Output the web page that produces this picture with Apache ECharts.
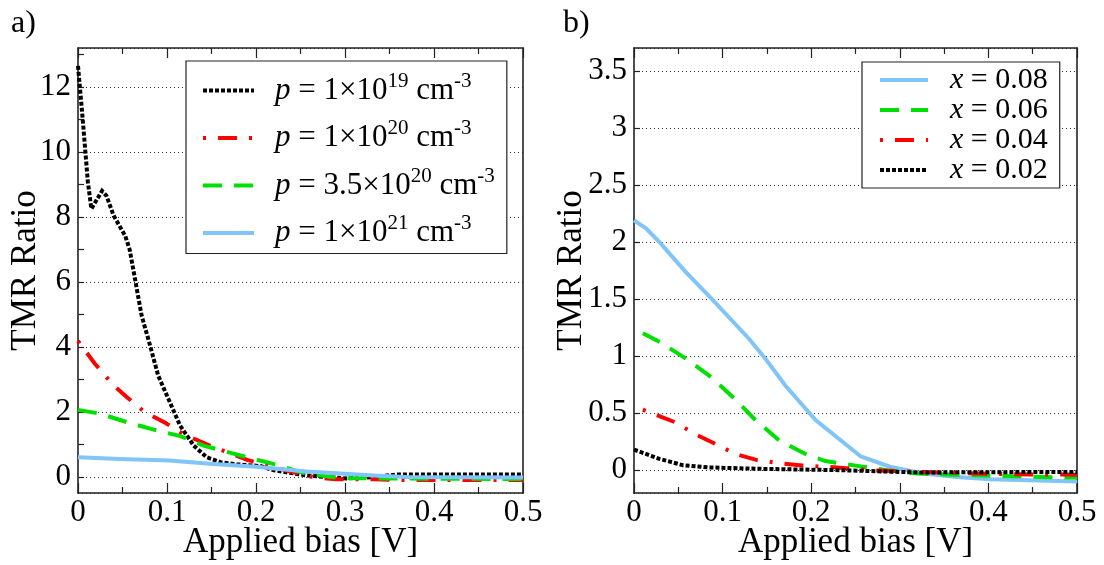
<!DOCTYPE html>
<html><head><meta charset="utf-8">
<script src="https://cdn.jsdelivr.net/npm/echarts@6/dist/echarts.min.js"></script>
<style>html,body{margin:0;padding:0;background:#fff}#c{width:1104px;height:565px}</style>
</head><body><div id="c"></div><script>
const FONT = 'Liberation Serif';
// ---------- Panel a data ----------
const aBlackX = [0, 0.005, 0.008, 0.011, 0.015, 0.027, 0.032, 0.04, 0.053, 0.058, 0.062, 0.0715, 0.081, 0.09, 0.1015, 0.1146, 0.13, 0.1446, 0.16, 0.18, 0.205, 0.22, 0.257, 0.28, 0.302, 0.332, 0.358, 0.4, 0.45, 0.5];
const aBlackY = [12.65, 11.1, 10.1, 9.1, 8.25, 8.8, 8.65, 8.04, 7.42, 7.0, 6.4, 4.96, 4.04, 3.12, 2.4, 1.58, 0.96, 0.6, 0.45, 0.38, 0.33, 0.2, 0.04, -0.01, -0.05, -0.01, 0.07, 0.07, 0.07, 0.07];
const aRedX = [0, 0.019, 0.04, 0.055, 0.075, 0.098, 0.118, 0.148, 0.19, 0.242, 0.264, 0.29, 0.332, 0.369, 0.42, 0.5];
const aRedY = [4.18, 3.48, 2.81, 2.45, 1.99, 1.66, 1.32, 0.96, 0.52, 0.14, -0.01, -0.08, -0.08, -0.1, -0.1, -0.1];
const aGreenX = [0, 0.025, 0.055, 0.085, 0.115, 0.141, 0.19, 0.216, 0.257, 0.294, 0.332, 0.388, 0.5];
const aGreenY = [2.06, 1.94, 1.68, 1.45, 1.25, 0.96, 0.6, 0.42, 0.09, -0.04, -0.05, -0.06, -0.07];
const aBlueX = [0, 0.047, 0.103, 0.148, 0.2, 0.257, 0.332, 0.369, 0.5];
const aBlueY = [0.6, 0.55, 0.5, 0.4, 0.31, 0.16, 0.04, -0.01, -0.02];
const aNames = ['p1e19', 'p1e20', 'p35e20', 'p1e21'];
const aLabels = {
  p1e19: '{i|p}{t| = 1×10}{s|19}{t| cm}{s|-3}',
  p1e20: '{i|p}{t| = 1×10}{s|20}{t| cm}{s|-3}',
  p35e20: '{i|p}{t| = 3.5×10}{s|20}{t| cm}{s|-3}',
  p1e21: '{i|p}{t| = 1×10}{s|21}{t| cm}{s|-3}'
};
const aYTicks = [0,1,2,3,4,5,6,7,8,9,10,11,12,13];
// ---------- Panel b data ----------
const bBlueX = [0, 0.0135, 0.0285, 0.058, 0.088, 0.13, 0.149, 0.171, 0.205, 0.256, 0.289, 0.327, 0.364, 0.402, 0.5];
const bBlueY = [2.19, 2.12, 2.0, 1.74, 1.5, 1.15, 0.97, 0.74, 0.44, 0.12, 0.03, -0.03, -0.06, -0.08, -0.1];
const bGreenX = [0.01, 0.03, 0.06, 0.088, 0.113, 0.137, 0.164, 0.194, 0.216, 0.25, 0.286, 0.32, 0.383, 0.458, 0.5];
const bGreenY = [1.2, 1.12, 0.97, 0.81, 0.63, 0.44, 0.26, 0.14, 0.08, 0.04, 0.0, -0.03, -0.045, -0.06, -0.065];
const bRedX = [0.01, 0.03, 0.0465, 0.068, 0.092, 0.115, 0.139, 0.167, 0.19, 0.216, 0.25, 0.263, 0.346, 0.421, 0.5];
const bRedY = [0.53, 0.47, 0.42, 0.32, 0.23, 0.14, 0.088, 0.059, 0.041, 0.03, 0.012, 0.0, -0.02, -0.035, -0.04];
const bBlackX = [0, 0.0285, 0.055, 0.085, 0.141, 0.233, 0.32, 0.5];
const bBlackY = [0.18, 0.1, 0.044, 0.024, 0.012, 0.0, -0.02, -0.015];
const bNames = ['x0.08', 'x0.06', 'x0.04', 'x0.02'];
const bLabels = {
  'x0.08': '{i|x}{t| = 0.08}',
  'x0.06': '{i|x}{t| = 0.06}',
  'x0.04': '{i|x}{t| = 0.04}',
  'x0.02': '{i|x}{t| = 0.02}'
};
// ---------- styles ----------
const C_BLACK = '#000000', C_RED = '#ff0000', C_GREEN = '#00e000', C_BLUE = '#80c4f8';
const DASH_BLACK = [4, 2], DASH_RED = [3, 12, 19, 12], DASH_GREEN = [19, 12];
const zip = (xs, ys) => xs.map((x, i) => [x, ys[i]]);
function line(name, xs, ys, color, type, xi, yi) {
  return { type: 'line', name, data: zip(xs, ys), xAxisIndex: xi, yAxisIndex: yi,
    symbol: 'none', showSymbol: false, animation: false, clip: true, z: 3,
    lineStyle: { color, width: 4, type, cap: 'butt', join: 'miter' }, itemStyle: { color } };
}
const frame = { lineStyle: { color: '#222', width: 1.6 } };
function xAx(grid, pos, labels) {
  return { type: 'value', gridIndex: grid, position: pos, min: 0, max: 0.5, interval: 0.1,
    axisLine: { show: true, onZero: false, ...frame },
    axisTick: { show: true, inside: true, length: 10, lineStyle: { color: '#222', width: 1.2 } },
    minorTick: { show: true, splitNumber: 2, length: 6, lineStyle: { color: '#222', width: 1.2 } },
    splitLine: { show: false },
    axisLabel: { show: labels, fontFamily: FONT, fontSize: 31, color: '#000', margin: 4 },
    name: labels ? 'Applied bias [V]' : '', nameLocation: 'middle', nameGap: 32, nameMoveOverlap: false,
    nameTextStyle: { fontFamily: FONT, fontSize: 35, color: '#000' } };
}
const richA = {
  t: { fontFamily: FONT, fontSize: 31, color: '#000', lineHeight: 40, padding: [5, 0, 5, 0] },
  i: { fontFamily: FONT, fontSize: 31, fontStyle: 'italic', color: '#000', lineHeight: 40, padding: [5, 0, 5, 16] },
  s: { fontFamily: FONT, fontSize: 21, color: '#000', lineHeight: 11, verticalAlign: 'top' }
};
const richB = {
  t: { fontFamily: FONT, fontSize: 30, color: '#000', lineHeight: 28 },
  i: { fontFamily: FONT, fontSize: 30, fontStyle: 'italic', color: '#000', lineHeight: 28, padding: [0, 0, 0, 17] }
};
const legendCommon = { orient: 'vertical', itemHeight: 14, borderColor: '#222', borderWidth: 1.2,
  backgroundColor: '#fff', selectedMode: false, itemStyle: { opacity: 0 },
  lineStyle: { width: 4, cap: 'butt' } };
const yName = { fontFamily: FONT, fontSize: 35, color: '#000' };
const option = {
  animation: false,
  backgroundColor: '#fff',
  title: [
    { text: 'a)', left: 6, top: 3, textStyle: { fontFamily: FONT, fontSize: 32, fontWeight: 'normal', color: '#000' } },
    { text: 'b)', left: 558, top: 3, textStyle: { fontFamily: FONT, fontSize: 32, fontWeight: 'normal', color: '#000' } }
  ],
  grid: [
    { left: 78, right: 1104 - 523, top: 48, bottom: 565 - 493, containLabel: false, outerBoundsMode: 'none' },
    { left: 634, right: 1104 - 1077, top: 48, bottom: 565 - 493, containLabel: false, outerBoundsMode: 'none' }
  ],
  xAxis: [xAx(0, 'bottom', true), xAx(0, 'top', false), xAx(1, 'bottom', true), xAx(1, 'top', false)],
  yAxis: [
    { type: 'value', gridIndex: 0, position: 'left', min: -0.5, max: 13.2, splitNumber: 7,
      axisLine: { show: true, onZero: false, ...frame }, axisTick: { show: false },
      splitLine: { show: true, lineStyle: { color: '#333', width: 1, type: [1, 3] } },
      axisLabel: { fontFamily: FONT, fontSize: 31, color: '#000', margin: 7, showMinLabel: false, showMaxLabel: false },
      name: 'TMR Ratio', nameLocation: 'middle', nameGap: 35, nameMoveOverlap: false, nameTextStyle: yName },
    { type: 'value', gridIndex: 0, position: 'right', min: -0.5, max: 13.2,
      axisLine: { show: true, onZero: false, ...frame }, axisTick: { show: false }, axisLabel: { show: false }, splitLine: { show: false } },
    { type: 'value', gridIndex: 0, position: 'left', min: -0.5, max: 13.2,
      axisLine: { show: false }, axisLabel: { show: false }, splitLine: { show: false },
      axisTick: { show: true, inside: true, length: 6, customValues: aYTicks, lineStyle: { color: '#222', width: 1.2 } } },
    { type: 'value', gridIndex: 1, position: 'left', min: -0.2, max: 3.7, splitNumber: 8,
      axisLine: { show: true, onZero: false, ...frame }, axisTick: { show: true, inside: true, length: 6, lineStyle: { color: '#222', width: 1.2 } },
      splitLine: { show: true, lineStyle: { color: '#333', width: 1, type: [1, 3] } },
      axisLabel: { fontFamily: FONT, fontSize: 31, color: '#000', margin: 7, showMinLabel: false, showMaxLabel: false },
      name: 'TMR Ratio', nameLocation: 'middle', nameGap: 45, nameMoveOverlap: false, nameTextStyle: yName },
    { type: 'value', gridIndex: 1, position: 'right', min: -0.2, max: 3.7,
      axisLine: { show: true, onZero: false, ...frame }, axisTick: { show: false }, axisLabel: { show: false }, splitLine: { show: false } }
  ],
  legend: [
    { ...legendCommon, data: aNames, left: 186, top: 61, itemWidth: 51, itemGap: 6.5,
      padding: [9, 12, 0, 15], formatter: n => aLabels[n], textStyle: { rich: richA } },
    { ...legendCommon, data: bNames, left: 862, top: 62, itemWidth: 48, itemGap: 0,
      padding: [3, 12, 3, 16], formatter: n => bLabels[n], textStyle: { rich: richB } }
  ],
  series: [
    line('p1e19', aBlackX, aBlackY, C_BLACK, DASH_BLACK, 0, 0),
    line('p1e20', aRedX, aRedY, C_RED, DASH_RED, 0, 0),
    line('p35e20', aGreenX, aGreenY, C_GREEN, DASH_GREEN, 0, 0),
    line('p1e21', aBlueX, aBlueY, C_BLUE, 'solid', 0, 0),
    line('x0.08', bBlueX, bBlueY, C_BLUE, 'solid', 2, 3),
    line('x0.06', bGreenX, bGreenY, C_GREEN, DASH_GREEN, 2, 3),
    line('x0.04', bRedX, bRedY, C_RED, DASH_RED, 2, 3),
    line('x0.02', bBlackX, bBlackY, C_BLACK, DASH_BLACK, 2, 3)
  ]
};
const chart = echarts.init(document.getElementById('c'), null, { renderer: 'canvas' });
chart.setOption(option);
</script></body></html>
